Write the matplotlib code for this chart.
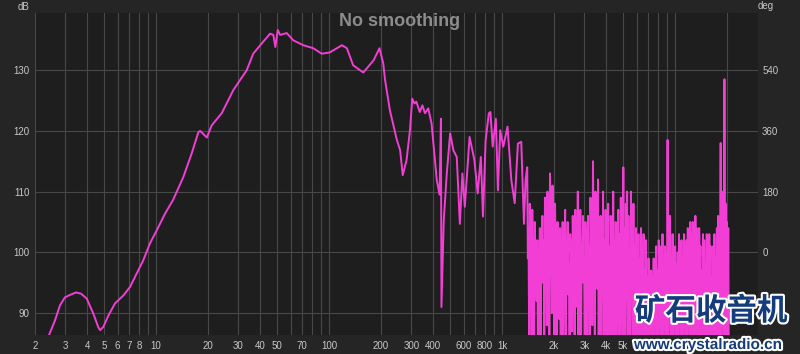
import numpy as np
import matplotlib.pyplot as plt
import matplotlib.patheffects as pe
from matplotlib.ticker import FixedLocator, NullLocator

plt.rcParams['font.family'] = ['Liberation Sans', 'DejaVu Sans']

# low end, smooth part of the response (Hz, dB)
smooth_f = [2.38, 2.61, 2.79, 2.98, 3.19, 3.45, 3.69, 3.98, 4.35, 4.64, 4.75,
            4.96, 5.31, 5.80, 6.48, 7.08, 7.74, 8.45, 9.24, 10.1, 11.3, 12.55,
            14.4, 16.1, 17.6, 18.0, 19.7, 21.0, 24.0, 28.0, 33.5, 36.5, 40.9,
            45.7, 47.7, 49.0, 50.6, 52.2, 57.0, 62.2, 71.1, 81.2, 90.8, 101,
            119, 127, 138, 158, 181, 196, 206, 211, 225, 247, 258]
smooth_db = [86.0, 88.8, 91.3, 92.6, 93.0, 93.4, 93.2, 92.4, 89.9, 87.7, 87.2,
             87.7, 89.6, 91.6, 92.9, 94.3, 96.5, 98.7, 101.5, 103.6, 106.4, 108.6,
             112.4, 116.3, 119.8, 120.0, 118.9, 120.9, 122.9, 126.7, 130.0, 132.7, 134.4,
             136.0, 135.8, 133.8, 136.6, 135.8, 136.1, 134.9, 134.1, 133.6, 132.7, 132.9,
             134.1, 133.6, 130.8, 129.6, 131.6, 133.6, 131.1, 128.4, 123.4, 118.5, 116.8]

# mid band, getting rough
mid_f = [267, 281, 294, 303, 312, 320, 335, 347, 359, 375, 392, 405, 420, 436,
         444, 447, 461, 480, 502, 524, 548, 571, 591, 610, 650, 693, 724, 755,
         777, 805, 840, 858, 884, 922, 948, 977, 1018, 1077, 1133, 1185, 1237,
         1293, 1340, 1370]
mid_db = [112.7, 115.2, 120.1, 125.3, 124.5, 124.8, 123.1, 124.2, 122.9, 123.7,
          121.2, 116.8, 111.9, 109.5, 122.0, 91.0, 105.3, 113.0, 119.6, 116.8,
          115.7, 104.7, 113.0, 107.5, 119.0, 115.2, 109.7, 115.7, 105.9, 118.5,
          122.9, 123.1, 117.4, 122.0, 110.2, 120.1, 117.4, 120.7, 111.9, 108.1,
          117.9, 118.2, 104.7, 112.0]

# top end: peaks and dips of the noisy trace, 1.4k..20k
hf_peaks = [114, 104, 108, 99, 107, 101, 105, 97, 102, 100,
            104, 98, 106, 102, 109, 100, 110, 104, 113, 106,
            111, 103, 108, 100, 105, 98, 104, 101, 105, 99,
            107, 100, 105, 98, 103, 101, 106, 99, 107, 102,
            110, 103, 107, 100, 106, 99, 105, 101, 106, 100,
            109, 104, 115, 105, 110, 102, 112, 103, 106, 99,
            110, 102, 107, 100, 108, 101, 106, 103, 110, 102,
            105, 99, 107, 103, 109, 101, 114, 104, 108, 110,
            106, 100, 110, 104, 108, 101, 104, 98, 103, 99,
            104, 98, 103, 97, 102, 96, 99, 95, 97, 96,
            99, 95, 101, 97, 102, 96, 101, 103, 98, 101,
            100, 118.5, 104, 106, 99, 103, 97, 101, 98, 100,
            103, 97, 102, 99, 103, 98, 102, 104, 99, 105,
            103, 105, 100, 106, 104, 99, 104, 101, 97, 103,
            102, 98, 103, 97, 103, 101, 96, 101, 103, 99,
            104, 106, 101, 118, 107, 110, 128.5, 108, 105, 104]
hf_dips = [99, 86, 101, 80, 98, 84, 100, 92, 80, 97,
           83, 100, 95, 80, 102, 88, 101, 80, 104, 90,
           100, 84, 99, 80, 96, 89, 80, 98, 86, 100,
           80, 99, 93, 80, 100, 87, 98, 80, 101, 91,
           84, 102, 80, 99, 95, 80, 100, 86, 97, 80,
           101, 88, 103, 80, 99, 94, 80, 100, 85, 97,
           84, 80, 95, 80, 86, 80, 97, 81, 80, 92,
           80, 94, 82, 80, 96, 80, 85, 80, 93, 80,
           83, 80, 96, 80, 87, 80, 82, 94, 80, 84,
           80, 93, 81, 80, 90, 80, 94, 82, 80, 88,
           80, 92, 80, 84, 95, 80, 86, 80, 91, 80,
           83, 80, 94, 80, 86, 80, 92, 80, 85, 80,
           90, 80, 83, 80, 94, 81, 80, 88, 80, 93,
           80, 85, 80, 92, 80, 82, 96, 80, 87, 80,
           91, 80, 84, 80, 93, 80, 86, 80, 90, 80,
           84, 80, 95, 80, 88, 80, 83, 80, 86, 80]

# labels shown on the frequency axis (higher ones sit under the watermark)
xlabels = {2: '2', 3: '3', 4: '4', 5: '5', 6: '6', 7: '7', 8: '8', 10: '10',
           20: '20', 30: '30', 40: '40', 50: '50', 70: '70', 100: '100',
           200: '200', 300: '300', 400: '400', 600: '600', 800: '800',
           1000: '1k', 2000: '2k', 3000: '3k', 4000: '4k', 5000: '5k',
           6000: '6k'}

# log spaced bins of the measurement in the noisy band
hf_f = np.geomspace(1400, 20500, 2 * len(hf_peaks))
hf_db = np.column_stack([hf_peaks, hf_dips]).ravel()

freq = np.concatenate([smooth_f, mid_f, hf_f])
db = np.concatenate([smooth_db, mid_db, hf_db])

fig = plt.figure(figsize=(8, 3.54), dpi=100, facecolor='#252525')
ax = fig.add_axes([35 / 800, 19 / 354, 723 / 800, 322 / 354])
ax.set_facecolor('#1e1e1e')

ax.plot(freq, db, color='#f23ed4', lw=1.4, solid_joinstyle='round')

ax.set_xscale('log')
ax.set_xlim(2, 30200)
ax.set_ylim(86.4, 139.4)

grid_x = [m * 10 ** e for e in range(5) for m in range(1, 10)
          if 2 <= m * 10 ** e <= 30000]
ax.xaxis.set_major_locator(FixedLocator(grid_x))
ax.xaxis.set_minor_locator(NullLocator())
ax.set_xticklabels([xlabels.get(v, '') for v in grid_x])
ax.set_yticks([90, 100, 110, 120, 130])
ax.grid(True, color='#484848', lw=0.8)
ax.tick_params(length=0, colors='#c8c8c8', labelsize=7)
ax.tick_params(axis='x', pad=4)
ax.tick_params(axis='y', pad=4)
for s in ax.spines.values():
    s.set_visible(False)

ax2 = ax.twinx()
ax2.set_ylim((86.4 - 100) * 18, (139.4 - 100) * 18)
ax2.set_yticks([0, 180, 360, 540])
ax2.tick_params(length=0, colors='#c8c8c8', labelsize=7, pad=3)
for s in ax2.spines.values():
    s.set_visible(False)

fig.text(24 / 800, 1 - 7 / 354, 'dB', color='#c8c8c8', fontsize=7,
         ha='center', va='center')
fig.text(766 / 800, 1 - 6 / 354, 'deg', color='#c8c8c8', fontsize=7,
         ha='center', va='center')
fig.text(0.5, 1 - 22 / 354, 'No smoothing', color='#8c8c8c', fontsize=13,
         fontweight='bold', ha='center', va='center')

# site watermark
halo = [pe.withStroke(linewidth=3, foreground='white')]
fig.text(711 / 800, 1 - 311 / 354, '矿石收音机', color='#143c7c', fontsize=22,
         fontweight='bold', family=['Noto Sans CJK SC', 'DejaVu Sans'],
         ha='center', va='center', path_effects=halo)
fig.text(708 / 800, 1 - 345 / 354, 'www.crystalradio.cn', color='#143c7c',
         fontsize=11, fontweight='bold', ha='center', va='center',
         path_effects=halo)

fig.savefig('out.png', dpi=100, facecolor=fig.get_facecolor())
